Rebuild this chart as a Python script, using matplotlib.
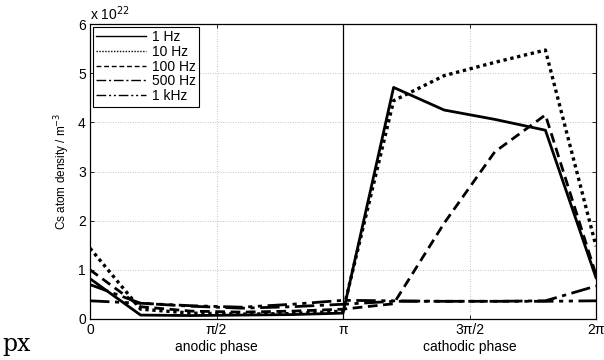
import matplotlib
matplotlib.use('Agg')
import matplotlib.pyplot as plt
from matplotlib.lines import Line2D
import numpy as np

plt.rcParams['font.family'] = ['Liberation Sans', 'DejaVu Sans']
plt.rcParams['font.size'] = 8.5

# phase points in units of pi
phase = [0, 0.2, 0.4, 0.6, 0.8, 1.0, 1.2, 1.4, 1.6, 1.8, 2.0]

# Cs atom density in units of 1e22 m^-3
f_1hz = [0.82, 0.08, 0.07, 0.08, 0.09, 0.12, 4.71, 4.25, 4.06, 3.84, 0.84]
f_10hz = [1.44, 0.20, 0.12, 0.10, 0.11, 0.16, 4.44, 4.95, 5.22, 5.47, 1.48]
f_100hz = [1.00, 0.25, 0.16, 0.14, 0.16, 0.20, 0.31, 1.95, 3.40, 4.15, 0.90]
f_500hz = [0.70, 0.32, 0.26, 0.22, 0.25, 0.30, 0.36, 0.36, 0.36, 0.37, 0.67]
f_1khz = [0.37, 0.32, 0.27, 0.24, 0.30, 0.38, 0.37, 0.36, 0.36, 0.36, 0.37]

labels = ['1 Hz', '10 Hz', '100 Hz', '500 Hz', '1 kHz']
styles = ['-', (0, (1.0, 1.1)), (0, (3.5, 2)), (0, (7, 2, 1.5, 2)), (0, (7, 2, 1.5, 2, 1.5, 2))]
widths = [2.0, 2.4, 2.0, 2.0, 2.0]

xticks = [0, 0.5, 1.0, 1.5, 2.0]
xticklabels = ['0', 'π/2', 'π', '3π/2', '2π']

fig = plt.figure(figsize=(6.04, 3.6), dpi=100)
ax = fig.add_axes([90/604, 41/360, 506/604, 295/360])

x = np.array(phase)
series = [f_1hz, f_10hz, f_100hz, f_500hz, f_1khz]
for vals, ls, lw in zip(series, styles, widths):
    ax.plot(x, vals, color='black', linestyle=ls, linewidth=lw)

# boundary between anodic and cathodic phase
ax.axvline(1.0, color='black', linewidth=0.9)

ax.set_xlim(0, 2)
ax.set_ylim(0, 6)
ax.set_xticks(xticks)
ax.set_xticklabels(xticklabels)
ax.set_yticks(range(7))
ax.tick_params(direction='in', top=True, right=True, length=3, width=0.6, pad=3, labelsize=10)
ax.grid(True, color='#b0b0b0', linestyle=(0, (1, 2)), linewidth=0.6)
for s in ax.spines.values():
    s.set_linewidth(0.9)

ax.set_ylabel('Cs atom density / m$^{-3}$', fontsize=8.5, labelpad=4)
ax.text(0.5, -0.07, 'anodic phase', transform=ax.get_xaxis_transform(),
        ha='center', va='top', fontsize=10)
ax.text(1.5, -0.07, 'cathodic phase', transform=ax.get_xaxis_transform(),
        ha='center', va='top', fontsize=10)
ax.text(0.0, 1.005, 'x 10$^{22}$', transform=ax.transAxes, ha='left', va='bottom', fontsize=10)

handles = [Line2D([], [], color='black', linestyle=ls, linewidth=1.0) for ls in styles]
leg = ax.legend(handles, labels, loc='upper left', bbox_to_anchor=(0.0, 1.0), fontsize=10,
                frameon=True, fancybox=False, edgecolor='black', framealpha=1,
                handlelength=3.6, handletextpad=0.4, labelspacing=0.05, borderpad=0.25,
                borderaxespad=0.2)
leg.get_frame().set_linewidth(0.8)

fig.text(2/604, 1 - 344/360, 'px', fontsize=17, family='DejaVu Serif', va='center', ha='left')

fig.savefig('out.png', dpi=100)
